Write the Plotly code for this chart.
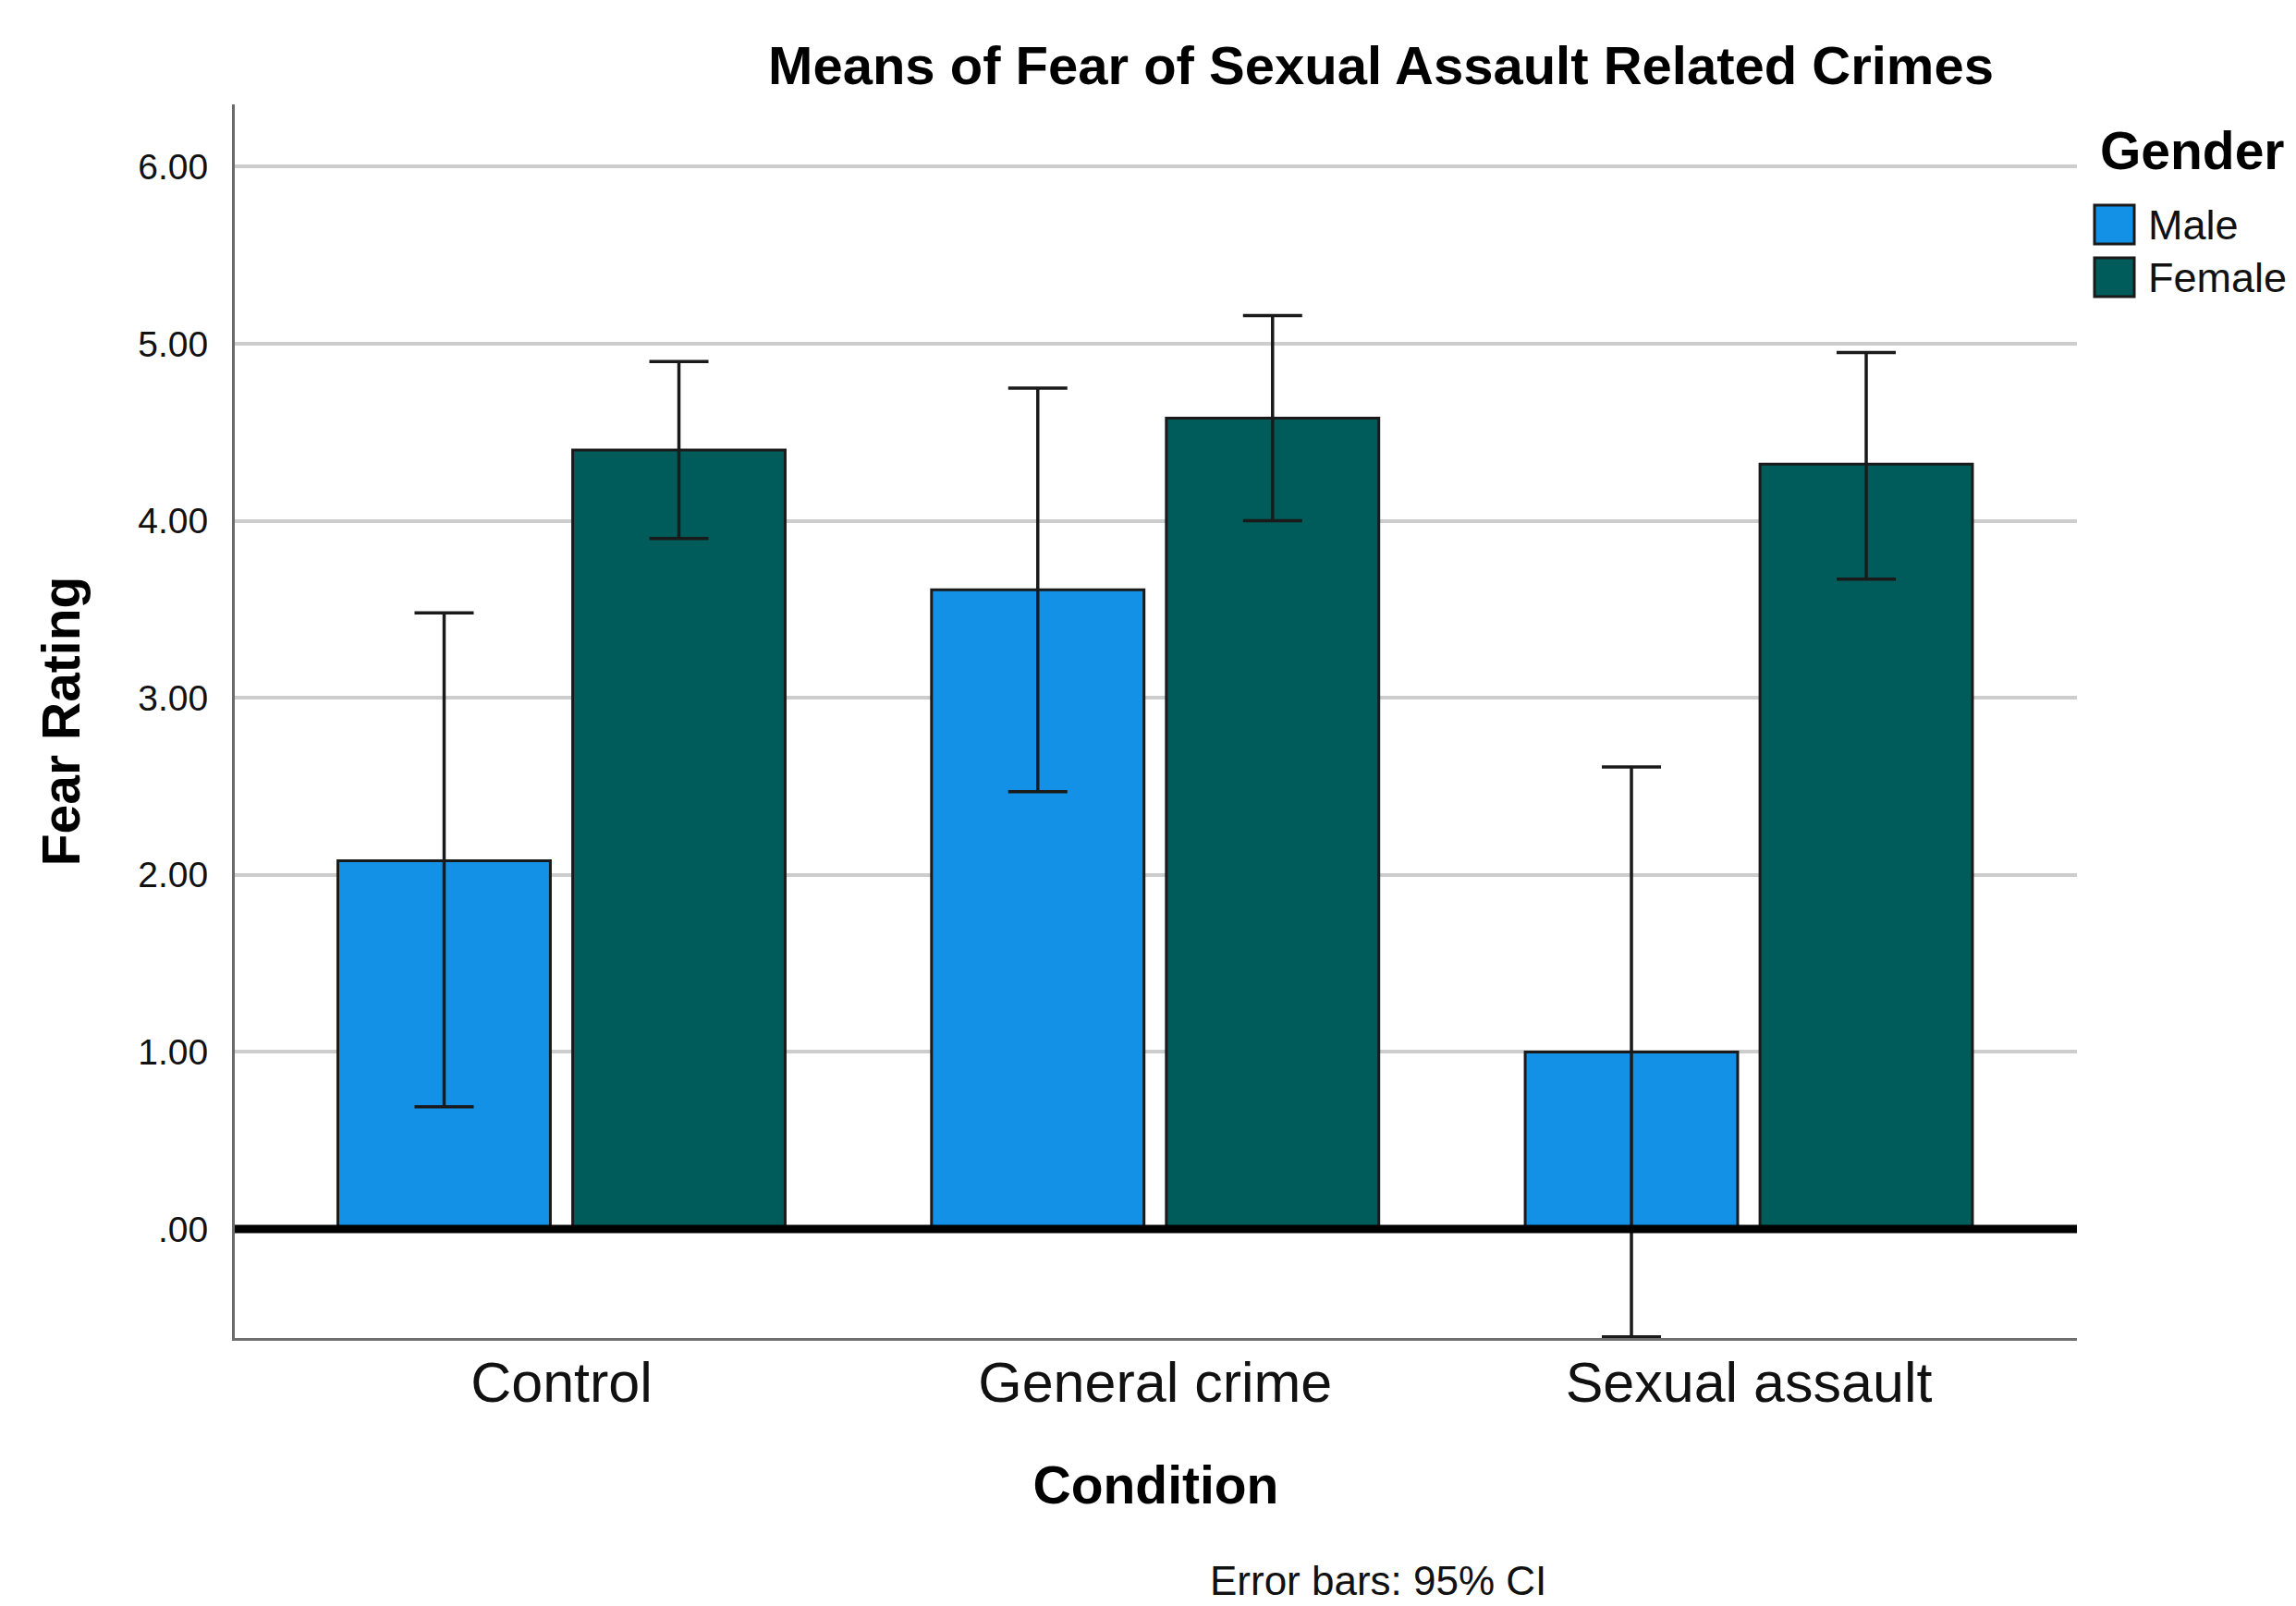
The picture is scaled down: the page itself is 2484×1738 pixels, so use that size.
import plotly.graph_objects as go

# ---- data ----
conditions = ["Control", "General crime", "Sexual assault"]
male_mean = [2.08, 3.61, 1.00]
male_upper = [3.48, 4.75, 2.61]
male_lower = [0.69, 2.47, -0.61]
female_mean = [4.40, 4.58, 4.32]
female_upper = [4.90, 5.16, 4.95]
female_lower = [3.90, 4.00, 3.67]
y_ticks = [0, 1, 2, 3, 4, 5, 6]
y_tick_text = [".00", "1.00", "2.00", "3.00", "4.00", "5.00", "6.00"]

MALE_COLOR = "#1391e6"
FEMALE_COLOR = "#005c5b"
FONT = "Liberation Sans"

W, H = 2484, 1738
L, R, T, B = 254, 2247, 113, 1448  # plot area in px


def px_x(px):
    return (px - L) / (R - L)


def px_y(py):
    return (B - py) / (B - T)


fig = go.Figure()


def add_series(name, mean, upper, lower, color):
    fig.add_trace(go.Bar(
        name=name, x=conditions, y=mean,
        marker=dict(color=color, line=dict(color="#1a1a1a", width=3)),
        error_y=dict(type="data", symmetric=False,
                     array=[u - m for u, m in zip(upper, mean)],
                     arrayminus=[m - l for m, l in zip(mean, lower)],
                     color="#1a1a1a", thickness=3.5, width=32),
        showlegend=False,
    ))


add_series("Male", male_mean, male_upper, male_lower, MALE_COLOR)
add_series("Female", female_mean, female_upper, female_lower, FEMALE_COLOR)

fig.update_layout(
    width=W, height=H, autosize=False,
    margin=dict(l=L, r=W - R, t=T, b=H - B, pad=0),
    paper_bgcolor="white", plot_bgcolor="white",
    barmode="group", bargap=0.209, bargroupgap=0.095,
    font=dict(family=FONT, color="#111111"),
    title=dict(text="Means of Fear of Sexual Assault Related Crimes",
               x=1494 / W, xanchor="center", xref="container",
               y=1 - 71 / H, yanchor="middle", yref="container",
               font=dict(family=FONT, size=58, weight="bold", color="#000000")),
    xaxis=dict(range=[-0.5504, 2.5527], showline=True, linecolor="#707070", linewidth=3,
               showgrid=False, zeroline=False, ticks="", automargin=False,
               tickfont=dict(family=FONT, size=61, color="#111111"),
               ticklabelstandoff=-7,
               title=dict(text="Condition", standoff=58,
                          font=dict(family=FONT, size=57, weight="bold", color="#000000"))),
    yaxis=dict(range=[-0.616, 6.352], showline=True, linecolor="#6a6a6a", linewidth=3,
               showgrid=True, gridcolor="#cdcdcd", gridwidth=4, zeroline=False,
               tickvals=y_ticks, ticktext=y_tick_text, ticks="", automargin=False,
               tickfont=dict(family=FONT, size=39, color="#111111"),
               ticklabelstandoff=18,
               title=dict(text="Fear Rating", standoff=45,
                          font=dict(family=FONT, size=57, weight="bold", color="#000000"))),
)

# heavy zero line
fig.add_shape(type="line", xref="paper", yref="y", x0=0, x1=1, y0=0, y1=0,
              line=dict(color="#000000", width=9), layer="above")

# footnote
fig.add_annotation(text="Error bars: 95% CI", xref="paper", yref="paper",
                   x=px_x(1491), y=px_y(1710), xanchor="center", yanchor="middle",
                   showarrow=False, font=dict(family=FONT, size=44, color="#111111"))

# legend (custom, to match large swatches)
fig.add_annotation(text="Gender", xref="paper", yref="paper",
                   x=px_x(2270), y=px_y(163), xanchor="left", yanchor="middle",
                   showarrow=False, font=dict(family=FONT, size=57, weight="bold", color="#000000"))
for name, color, cy in [("Male", MALE_COLOR, 243), ("Female", FEMALE_COLOR, 300)]:
    fig.add_shape(type="rect", xref="paper", yref="paper",
                  x0=px_x(2266), x1=px_x(2309), y0=px_y(cy + 21), y1=px_y(cy - 21),
                  fillcolor=color, line=dict(color="#1a1a1a", width=3))
    fig.add_annotation(text=name, xref="paper", yref="paper",
                       x=px_x(2322), y=px_y(cy), xanchor="left", yanchor="middle",
                       showarrow=False, font=dict(family=FONT, size=45, color="#111111"))

fig.write_html("out.html")
